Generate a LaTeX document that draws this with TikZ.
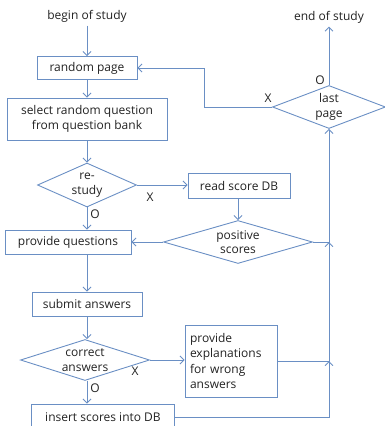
\documentclass[tikz,border=0pt]{standalone}
\usepackage{fontspec}
\setmainfont{Open Sans}
\usetikzlibrary{shapes.geometric,arrows.meta}
\definecolor{flow}{HTML}{6A8FC4}
\definecolor{ink}{HTML}{222222}
\begin{document}
\begin{tikzpicture}[x=1pt,y=-1pt,
	font=\fontsize{12}{15.5}\selectfont,text=ink,
	box/.style={rectangle,draw=flow,line width=0.9pt,inner sep=0pt,align=center},
	decision/.style={diamond,draw=flow,line width=0.9pt,inner sep=0pt,align=center,font=\fontsize{12}{14.5}\selectfont},
	arr/.style={draw=flow,line width=0.9pt,-{Straight Barb[length=4pt,width=8pt]}},
	line/.style={draw=flow,line width=0.9pt}]
	\useasboundingbox (0,0) rectangle (385,426);
	
	% main column
	\node (begin) at (87,16) {begin of study};
	\node[box,minimum width=100pt,minimum height=23pt] (rand) at (87,68) {random page};
	\node[box,minimum width=160pt,minimum height=42pt] (sel) at (87,119) {select random question\\from question bank};
	\node[decision,minimum width=99pt,minimum height=44pt,aspect=2.25] (restudy) at (87,185) {re-\\study};
	\node[box,minimum width=126pt,minimum height=24pt] (pq) at (68,242) {provide questions};
	\node[box,minimum width=110pt,minimum height=24pt] (submit) at (87,304) {submit answers};
	\node[decision,minimum width=129pt,minimum height=41pt,aspect=3.1] (correct) at (85,360) {correct\\answers};
	\node[box,minimum width=143pt,minimum height=26pt] (ins) at (103,417) {insert scores into DB};
	
	% right side
	\node[box,minimum width=102pt,minimum height=25pt] (read) at (239,186) {read score DB};
	\node[decision,minimum width=149pt,minimum height=43pt,aspect=3.5] (pos) at (238,242) {positive\\scores};
	\node[box,minimum width=92pt,minimum height=72pt,text width=82pt,align=left] (expl) at (231,361) {provide\\explanations\\for wrong\\answers};
	\node[decision,minimum width=113pt,minimum height=43pt,aspect=2.6] (last) at (329,107) {last\\page};
	\node (end) at (329,17) {end of study};
	
	% O / X marks
	\node (o1) at (95,214) {O};
	\node (x1) at (150,197) {X};
	\node (o2) at (95,388) {O};
	\node (x2) at (135,371) {X};
	\node (o3) at (320,80) {O};
	\node (x3) at (268,98) {X};
	
	% connectors
	\draw[arr] (begin) -- (rand);
	\draw[arr] (rand) -- (sel);
	\draw[arr] (sel) -- (restudy);
	\draw[arr] (restudy.south) -- (restudy.south |- pq.north);
	\draw[arr] (restudy.east) -- (read.west |- restudy.east);
	\draw[arr] (read.south -| pos.north) -- (pos.north);
	\draw[arr] (pos.west) -- (pq.east);
	\draw[arr] (pq.south -| submit.north) -- (submit.north);
	\draw[arr] (submit.south) -- (submit.south |- correct.north);
	\draw[arr] (correct.east) -- (expl.west |- correct.east);
	\draw[arr] (submit.south |- correct.south) -- (submit.south |- ins.north);
	\draw[arr] (ins.east) -| (last.south);
	\draw[line] (expl.east) -- (expl.east -| last.south) coordinate (j1);
	\draw[arr] ([yshift=-12pt]j1) -- (j1);
	\draw[line] (pos.east) -- (pos.east -| last.south) coordinate (j2);
	\draw[arr] ([yshift=-12pt]j2) -- (j2);
	\draw[arr] (last.north) -- (end.south);
	\draw[arr] (last.west) -- ++(-68,0) |- (rand.east);
\end{tikzpicture}
\end{document}
